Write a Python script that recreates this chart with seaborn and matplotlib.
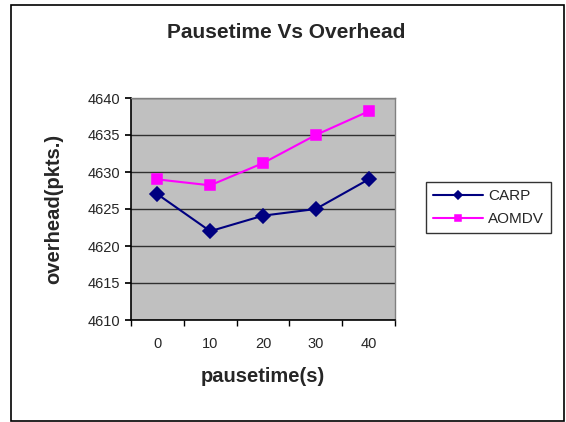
import matplotlib.pyplot as plt
import pandas as pd
import seaborn as sns
from matplotlib.patches import Rectangle
from matplotlib.ticker import FixedLocator, NullFormatter

# Data
pausetime = [0, 10, 20, 30, 40]
carp = [4627.0, 4622.0, 4624.1, 4625.0, 4629.0]
aomdv = [4629.0, 4628.2, 4631.2, 4635.0, 4638.2]
series_names = ["CARP", "AOMDV"]
y_ticks = [4610, 4615, 4620, 4625, 4630, 4635, 4640]


def main():
    df = pd.DataFrame({
        "pausetime": pausetime * 2,
        "overhead": carp + aomdv,
        "protocol": [series_names[0]] * len(carp) + [series_names[1]] * len(aomdv),
    })

    sns.set_theme(style="white")
    plt.rcParams["font.family"] = ["Liberation Sans", "DejaVu Sans"]

    fig = plt.figure(figsize=(5.66, 4.22), dpi=100)
    ax = fig.add_axes([131 / 566, 1 - 320 / 422, 264 / 566, 222 / 422])
    ax.set_facecolor("#C0C0C0")

    sns.pointplot(data=df, x="pausetime", y="overhead", hue="protocol",
                  palette={"CARP": "#000080", "AOMDV": "#FF00FF"},
                  markers=["D", "s"], linestyles=["-", "-"],
                  errorbar=None, ax=ax, linewidth=1.5, markersize=7)

    ax.set_xlim(-0.5, len(pausetime) - 0.5)
    ax.set_ylim(y_ticks[0], y_ticks[-1])
    ax.set_yticks(y_ticks)
    ax.set_yticklabels([str(t) for t in y_ticks], fontsize=10.5)
    ax.yaxis.grid(True, color="#303030", linewidth=1)
    ax.set_axisbelow(True)

    ax.set_xticks(range(len(pausetime)))
    ax.set_xticklabels([str(p) for p in pausetime], fontsize=10.5)
    ax.xaxis.set_minor_locator(FixedLocator([i - 0.5 for i in range(len(pausetime) + 1)]))
    ax.xaxis.set_minor_formatter(NullFormatter())
    ax.tick_params(axis="x", which="major", length=0, pad=12)
    ax.tick_params(axis="x", which="minor", length=4, direction="out", color="black", bottom=True)
    ax.tick_params(axis="y", length=4, direction="out", color="black", left=True, pad=4)

    for side in ["top", "right"]:
        ax.spines[side].set_color("#808080")
        ax.spines[side].set_linewidth(1)
    for side in ["left", "bottom"]:
        ax.spines[side].set_color("black")
        ax.spines[side].set_linewidth(1.2)

    ax.set_xlabel("pausetime(s)", fontsize=14.5, fontweight="bold", labelpad=12)
    ax.set_ylabel("overhead(pkts.)", fontsize=14.5, fontweight="bold", labelpad=17)

    fig.text(0.505, 1 - 33 / 422, "Pausetime Vs Overhead", ha="center", va="center",
             fontsize=15, fontweight="bold")

    handles, labels = ax.get_legend_handles_labels()
    ax.get_legend().remove()
    leg = fig.legend(handles, labels, loc="upper left",
                     bbox_to_anchor=(426 / 566, 1 - 182 / 422), borderaxespad=0,
                     frameon=True, fancybox=False, fontsize=11, markerscale=0.6,
                     borderpad=0.45, handlelength=3.3, labelspacing=0.6, handletextpad=0.3)
    leg.get_frame().set_edgecolor("black")
    leg.get_frame().set_linewidth(1)

    fig.patches.append(Rectangle((11 / 566, 1 - 421 / 422), 553 / 566, 416 / 422,
                                 transform=fig.transFigure, fill=False,
                                 edgecolor="black", linewidth=1.2))

    fig.savefig("out.png", dpi=100)


if __name__ == '__main__':
    main()
